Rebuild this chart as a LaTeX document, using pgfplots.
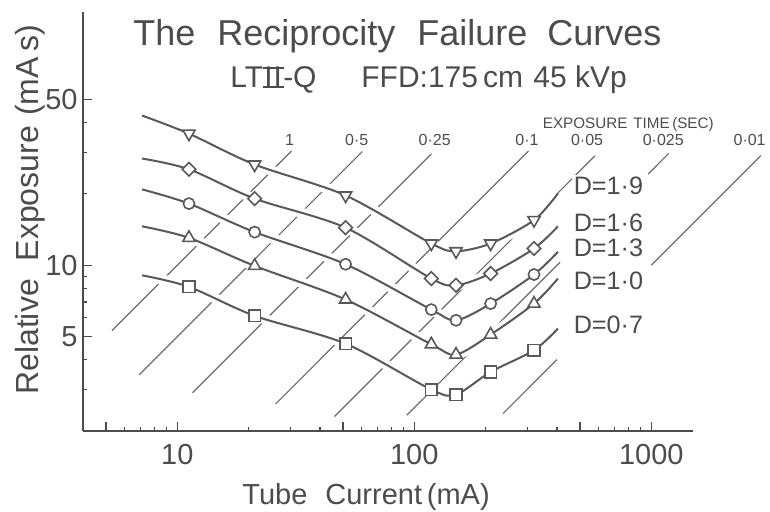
\documentclass[border=0pt]{standalone}
\usepackage{fontspec}
\setmainfont{Liberation Sans}
\usepackage{pgfplots}
\usepackage{pgfplotstable}
\pgfplotsset{compat=1.18}
\definecolor{ink}{gray}{0.30}
\definecolor{crv}{gray}{0.35}
\definecolor{dg}{gray}{0.42}

\newcommand{\RomII}{\setbox0\hbox{I\kern0.5pt I}\leavevmode\kern0.6pt
  \rlap{\kern-0.8pt\rule{\dimexpr\wd0+1.6pt}{0.9pt}}%
  \rlap{\kern-0.8pt\raisebox{\dimexpr\ht0-0.9pt}{\rule{\dimexpr\wd0+1.6pt}{0.9pt}}}%
  \box0\kern0.6pt}

\pgfplotstableread{
x y
7.1 42.8
11.2 35.9
21.2 26.6
51.3 19.7
118 12.35
150 11.46
210 12.35
320 15.5
404 20.1
}\Dnineteen
\pgfplotstableread{
x y
7.1 28.2
11.2 25.4
21.2 19.1
51.3 14.4
118 8.79
150 8.23
210 9.23
320 11.76
404 14.6
}\Dsixteen
\pgfplotstableread{
x y
7.1 20.9
11.2 18.2
21.2 13.8
51.3 10.1
118 6.50
150 5.86
210 6.89
320 9.14
404 11.4
}\Dthirteen
\pgfplotstableread{
x y
7.1 14.6
11.2 13.05
21.2 9.94
51.3 7.17
118 4.64
150 4.20
210 5.10
320 6.89
404 8.79
}\Dten
\pgfplotstableread{
x y
7.1 9.07
11.2 8.11
21.2 6.12
51.3 4.67
118 2.99
150 2.85
210 3.55
320 4.38
404 5.41
}\Dseven

\pgfplotsset{
  myhalo/.style={white, line width=5pt, smooth},
  mycurve/.style={crv, line width=1pt, smooth},
  mydiag/.style={dg, line width=0.6pt},
  mymarks/.style={crv, only marks, line width=0.8pt,
    skip coords between index={0}{1}, skip coords between index={8}{9}},
}

\begin{document}
\begin{tikzpicture}
\useasboundingbox (-41.5pt,-40.5pt) rectangle (343.5pt,215.5pt);
\begin{axis}[
  scale only axis, width=305pt, height=209.5pt,
  xmode=log, ymode=log,
  xmin=4, xmax=1500, ymin=2, ymax=117,
  axis lines=left,
  axis line style={-, draw=ink, line width=0.8pt},
  every outer x axis line/.append style={-},
  every outer y axis line/.append style={-},
  tick align=inside,
  xtick={10,100,1000}, xticklabels={10,100,1000},
  minor xtick={6,7,8,9,20,30,40,60,70,80,90,200,300,400,600,700,800,900},
  extra x ticks={5,50,500}, extra x tick labels={},
  ytick={5,10,50}, yticklabels={5,10,50},
  minor ytick={3,4,6,7,8,9,20,30,40},
  major tick length=4.5pt, minor tick length=2.2pt,
  tick style={draw=ink, line width=0.6pt},
  ticklabel style={font=\fontsize{14.5}{16}\selectfont, text=ink},
  xticklabel style={anchor=base, inner sep=0pt, yshift=-17pt},
  yticklabel style={anchor=east, inner sep=0pt, xshift=-2.5pt},
  clip=false,
]
% exposure-time lines (E = I * t)
\addplot[mydiag] coordinates {(5.3,5.3) (30.3,30.3)};
\addplot[mydiag] coordinates {(6.9,3.45) (60.4,30.2)};
\addplot[mydiag] coordinates {(11.6,2.9) (118,29.5)};
\addplot[mydiag] coordinates {(26,2.6) (303,30.3)};
\addplot[mydiag] coordinates {(46,2.3) (579,28.95)};
\addplot[mydiag] coordinates {(93,2.33) (412,10.3)};
\addplot[mydiag] coordinates {(970,24.25) (1183,29.6)};
\addplot[mydiag] coordinates {(237,2.37) (400,4.0)};
\addplot[mydiag] coordinates {(1000,10) (2900,29)};

% halos
\addplot[myhalo] table {\Dnineteen};
\addplot[myhalo] table {\Dsixteen};
\addplot[myhalo] table {\Dthirteen};
\addplot[myhalo] table {\Dten};
\addplot[myhalo] table {\Dseven};

% curves
\addplot[mycurve] table {\Dnineteen};
\addplot[mycurve] table {\Dsixteen};
\addplot[mycurve] table {\Dthirteen};
\addplot[mycurve] table {\Dten};
\addplot[mycurve] table {\Dseven};

% markers
\addplot[mymarks, mark=triangle*, mark size=3.5pt, mark options={rotate=180, fill=white}] table {\Dnineteen};
\addplot[mymarks, mark=square*, mark size=2.4pt, mark options={rotate=45, fill=white}] table {\Dsixteen};
\addplot[mymarks, mark=*, mark size=2.8pt, mark options={fill=white}] table {\Dthirteen};
\addplot[mymarks, mark=triangle*, mark size=3.5pt, mark options={fill=white}] table {\Dten};
\addplot[mymarks, mark=square*, mark size=2.9pt, mark options={fill=white}] table {\Dseven};

% D labels
\begin{scope}[every node/.style={anchor=west, fill=white, inner sep=1pt, text=ink, font=\fontsize{12.6}{14}\selectfont}]
\node at (axis cs:460,21.7) {D=1·9};
\node at (axis cs:460,15.1) {D=1·6};
\node at (axis cs:460,11.8) {D=1·3};
\node at (axis cs:460,8.62) {D=1·0};
\node at (axis cs:460,5.62) {D=0·7};
\end{scope}

% time labels
\begin{scope}[every node/.style={inner sep=0pt, text=ink, font=\fontsize{8}{9}\selectfont}]
\node at (axis cs:29.8,33.9) {1};
\node at (axis cs:57.2,33.9) {0·5};
\node at (axis cs:122,33.9) {0·25};
\node at (axis cs:299,33.9) {0·1};
\node at (axis cs:536,33.9) {0·05};
\node at (axis cs:1124,33.9) {0·025};
\node at (axis cs:2600,33.9) {0·01};
\node[font=\fontsize{7.6}{9}\selectfont] at (axis cs:800,39.2) {EXPOSURE\hspace{3pt}TIME\,(SEC)};
\end{scope}
\end{axis}

% titles and axis labels
\node[anchor=base west, text=ink, font=\fontsize{18}{20}\selectfont, inner sep=0pt]
  at (25pt,192.5pt) {The\hspace{11pt}Reciprocity\hspace{11pt}Failure\hspace{10pt}Curves};
\node[anchor=base west, text=ink, font=\fontsize{15}{17}\selectfont, inner sep=0pt]
  at (73.5pt,171.5pt) {LT\RomII-Q};
\node[anchor=base west, text=ink, font=\fontsize{15}{17}\selectfont, inner sep=0pt]
  at (139pt,171.5pt) {FFD:175\,cm};
\node[anchor=base west, text=ink, font=\fontsize{15}{17}\selectfont, inner sep=0pt]
  at (225pt,171.5pt) {45 kVp};
\node[anchor=base west, text=ink, font=\fontsize{14.5}{16}\selectfont, inner sep=0pt]
  at (79.5pt,-37pt) {Tube\hspace{9pt}Current\,(mA)};
\node[anchor=base, rotate=90, text=ink, font=\fontsize{16}{18}\selectfont, inner sep=0pt]
  at (-22pt,110.5pt) {Relative\hspace{9pt}Exposure\hspace{5pt}(mA\,s)};
\end{tikzpicture}
\end{document}
